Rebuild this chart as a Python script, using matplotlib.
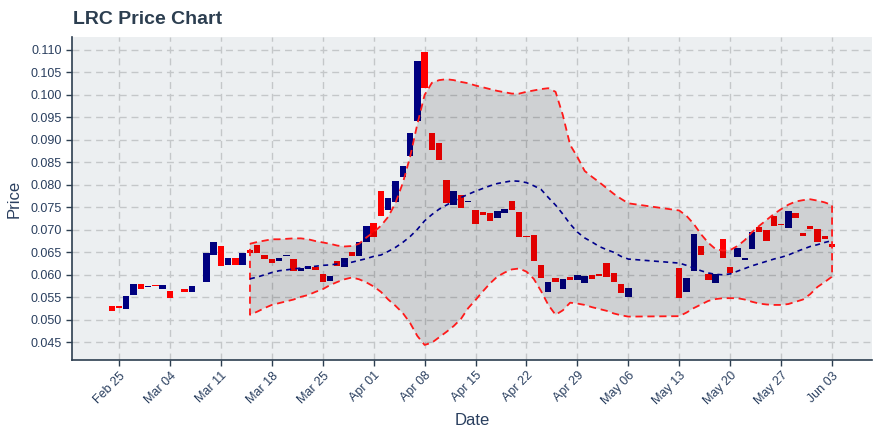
import matplotlib
matplotlib.use("Agg")
import matplotlib.pyplot as plt
import matplotlib.dates as mdates
import numpy as np
import pandas as pd

# ---------------- data ----------------
dates = ["2019-02-24","2019-02-25","2019-02-26","2019-02-27","2019-02-28","2019-03-01","2019-03-02",
         "2019-03-03","2019-03-04","2019-03-06","2019-03-07","2019-03-09","2019-03-10","2019-03-11",
         "2019-03-12","2019-03-13","2019-03-14","2019-03-15","2019-03-16","2019-03-17","2019-03-18",
         "2019-03-19","2019-03-20","2019-03-21","2019-03-22","2019-03-23","2019-03-24","2019-03-25",
         "2019-03-26","2019-03-27","2019-03-28","2019-03-29","2019-03-30","2019-03-31","2019-04-01",
         "2019-04-02","2019-04-03","2019-04-04","2019-04-05","2019-04-06","2019-04-07","2019-04-08",
         "2019-04-09","2019-04-10","2019-04-11","2019-04-12","2019-04-13","2019-04-14","2019-04-15",
         "2019-04-16","2019-04-17","2019-04-18","2019-04-19","2019-04-20","2019-04-21","2019-04-22",
         "2019-04-23","2019-04-24","2019-04-25","2019-04-26","2019-04-27","2019-04-28","2019-04-29",
         "2019-04-30","2019-05-01","2019-05-02","2019-05-03","2019-05-04","2019-05-05","2019-05-06",
         "2019-05-13","2019-05-14","2019-05-15","2019-05-16","2019-05-17","2019-05-18","2019-05-19",
         "2019-05-20","2019-05-21","2019-05-22","2019-05-23","2019-05-24","2019-05-25","2019-05-26",
         "2019-05-27","2019-05-28","2019-05-29","2019-05-30","2019-05-31","2019-06-01","2019-06-02",
         "2019-06-03"]

open_ = [0.0531,0.0531,0.0525,0.0555,0.0580,0.0572,0.0576,0.0568,0.0564,0.0568,0.0562,0.0584,0.0644,0.0664,
         0.0622,0.0637,0.0622,0.0655,0.0666,0.0644,0.0635,0.0631,0.0642,0.0635,0.0608,0.0613,0.0617,0.0602,
         0.0586,0.0631,0.0617,0.0651,0.0642,0.0673,0.0715,0.0786,0.0744,0.0762,0.0818,0.0864,0.0942,0.1096,
         0.0915,0.0893,0.0811,0.0755,0.0778,0.0762,0.0744,0.0740,0.0737,0.0726,0.0738,0.0764,0.0740,0.0686,
         0.0689,0.0622,0.0562,0.0593,0.0568,0.0595,0.0588,0.0582,0.0600,0.0602,0.0626,0.0604,0.0580,0.0551,
         0.0615,0.0562,0.0608,0.0664,0.0602,0.0582,0.0680,0.0617,0.0640,0.0633,0.0657,0.0706,0.0700,0.0731,
         0.0713,0.0704,0.0738,0.0693,0.0709,0.0702,0.0686,0.0669]

close = [0.0520,0.0526,0.0553,0.0580,0.0568,0.0573,0.0574,0.0577,0.0548,0.0562,0.0575,0.0649,0.0673,0.0620,
         0.0637,0.0622,0.0649,0.0649,0.0649,0.0635,0.0626,0.0637,0.0643,0.0608,0.0615,0.0620,0.0611,0.0584,
         0.0597,0.0620,0.0637,0.0642,0.0673,0.0709,0.0684,0.0731,0.0771,0.0809,0.0842,0.0915,0.1076,0.1015,
         0.0878,0.0855,0.0760,0.0786,0.0749,0.0764,0.0713,0.0733,0.0720,0.0742,0.0746,0.0744,0.0684,0.0684,
         0.0631,0.0593,0.0584,0.0584,0.0591,0.0588,0.0600,0.0597,0.0591,0.0597,0.0595,0.0584,0.0560,0.0571,
         0.0548,0.0593,0.0691,0.0644,0.0588,0.0602,0.0637,0.0604,0.0660,0.0637,0.0695,0.0695,0.0675,0.0709,
         0.0711,0.0742,0.0726,0.0686,0.0702,0.0673,0.0680,0.0662]

# Bollinger band values (from 2019-03-15 onward, same dates as candles)
band_dates = dates[17:]
band_upper = [0.0669,0.0673,0.0676,0.0679,0.0679,0.0680,0.0681,0.0681,0.0679,0.0675,0.0672,0.0669,0.0665,
              0.0663,0.0664,0.0669,0.0683,0.0695,0.0709,0.0729,0.0760,0.0804,0.0862,0.0935,0.1000,0.1027,
              0.1033,0.1035,0.1033,0.1029,0.1026,0.1021,0.1017,0.1013,0.1009,0.1006,0.1003,0.1003,0.1007,
              0.1010,0.1013,0.1015,0.1007,0.0955,0.0889,0.0862,0.0831,0.0818,0.0806,0.0793,0.0780,0.0769,
              0.0759,0.0743,0.0731,0.0713,0.0690,0.0671,0.0657,0.0654,0.0655,0.0664,0.0677,0.0695,0.0709,
              0.0722,0.0735,0.0746,0.0756,0.0763,0.0766,0.0768,0.0765,0.0761,0.0755]
band_mid = [0.0591,0.0595,0.0600,0.0605,0.0609,0.0611,0.0613,0.0615,0.0617,0.0619,0.0621,0.0622,0.0624,
            0.0625,0.0628,0.0632,0.0636,0.0641,0.0644,0.0652,0.0661,0.0672,0.0685,0.0701,0.0720,0.0734,
            0.0746,0.0755,0.0764,0.0772,0.0779,0.0786,0.0792,0.0798,0.0803,0.0806,0.0809,0.0808,0.0805,
            0.0798,0.0790,0.0772,0.0755,0.0735,0.0713,0.0695,0.0682,0.0673,0.0663,0.0656,0.0650,0.0641,
            0.0635,0.0626,0.0621,0.0615,0.0609,0.0604,0.0601,0.0600,0.0602,0.0608,0.0614,0.0620,0.0625,
            0.0630,0.0635,0.0639,0.0644,0.0651,0.0657,0.0663,0.0667,0.0672,0.0676]
band_lower = [0.0511,0.0518,0.0526,0.0533,0.0537,0.0541,0.0545,0.0551,0.0555,0.0562,0.0568,0.0577,0.0584,
              0.0590,0.0594,0.0590,0.0583,0.0574,0.0562,0.0545,0.0531,0.0515,0.0493,0.0464,0.0444,0.0449,
              0.0461,0.0473,0.0486,0.0502,0.0526,0.0544,0.0563,0.0581,0.0596,0.0605,0.0612,0.0614,0.0607,
              0.0591,0.0564,0.0533,0.0511,0.0521,0.0538,0.0536,0.0533,0.0528,0.0524,0.0520,0.0514,0.0510,
              0.0507,0.0508,0.0516,0.0526,0.0534,0.0542,0.0546,0.0548,0.0548,0.0548,0.0545,0.0540,0.0536,
              0.0534,0.0533,0.0533,0.0535,0.0540,0.0545,0.0557,0.0573,0.0584,0.0596]

y_ticks = [0.045,0.050,0.055,0.060,0.065,0.070,0.075,0.080,0.085,0.090,0.095,0.100,0.105,0.110]
x_ticks = ["2019-02-25","2019-03-04","2019-03-11","2019-03-18","2019-03-25","2019-04-01","2019-04-08",
           "2019-04-15","2019-04-22","2019-04-29","2019-05-06","2019-05-13","2019-05-20","2019-05-27",
           "2019-06-03"]

# ---------------- style ----------------
plt.rcParams['font.family'] = ['Liberation Sans', 'DejaVu Sans']
TXT = '#2a3f5f'
BG = '#eceff1'
UP = '#000080'
DOWN = '#ff0000'

fig = plt.figure(figsize=(8.8, 4.4), dpi=100)
fig.patch.set_facecolor('white')
ax = fig.add_axes([72/880, 1-360/440, 800/880, 323/440])
ax.set_facecolor(BG)

d = pd.to_datetime(dates)
xn = mdates.date2num(d)
o = np.array(open_)
c = np.array(close)
bottom = np.minimum(o, c)
height = np.maximum(np.abs(c - o), 0.00022)
cols = [UP if cc >= oo else DOWN for oo, cc in zip(o, c)]
ax.bar(xn, height, bottom=bottom, width=0.88, color=cols, linewidth=0, zorder=3)

bx = mdates.date2num(pd.to_datetime(band_dates))
bu = np.array(band_upper)
bm = np.array(band_mid)
bl = np.array(band_lower)
poly_x = np.concatenate([bx, bx[::-1], bx[:1]])
poly_y = np.concatenate([bu, bl[::-1], bu[:1]])
ax.fill(poly_x, poly_y, color='black', alpha=0.12, linewidth=0, zorder=4)
ax.plot(poly_x, poly_y, color='#ff1a1a', linewidth=1.3, dashes=(4, 2.6), zorder=5)
ax.plot(bx, bm, color='#00008b', linewidth=1.2, dashes=(3, 2.6), zorder=5)

# axes
x0 = mdates.date2num(pd.Timestamp("2019-02-25"))
ax.set_xlim(x0 - 6.46, x0 + 103.49)
ax.set_ylim(0.04105, 0.11289)

ax.set_yticks(y_ticks)
ax.set_yticklabels([f"{v:.3f}" for v in y_ticks])
xt = pd.to_datetime(x_ticks)
ax.set_xticks(mdates.date2num(xt))
ax.set_xticklabels([t.strftime("%b %d") for t in xt], rotation=45, ha='right', rotation_mode='anchor')

ax.grid(True, color='#c4c7c9', linewidth=1.0, dashes=(5, 3.5), zorder=0)
ax.set_axisbelow(True)

for s in ['top', 'right']:
    ax.spines[s].set_visible(False)
for s in ['left', 'bottom']:
    ax.spines[s].set_color('#2c3e50')
    ax.spines[s].set_linewidth(1.2)

ax.tick_params(axis='both', colors='#2c3e50', labelcolor=TXT, labelsize=9, length=4, width=1)
ax.tick_params(axis='x', pad=3)

ax.set_xlabel("Date", fontsize=12, color=TXT)
ax.set_ylabel("Price", fontsize=12, color=TXT)
ax.xaxis.set_label_coords(0.5, -0.165)
ax.yaxis.set_label_coords(-0.063, 0.5)

fig.text(72.7/880, 1-23.5/440, "LRC Price Chart", fontsize=14, fontweight='bold',
         color='#2c3e50', ha='left', va='baseline')

fig.savefig("out.png", dpi=100)
